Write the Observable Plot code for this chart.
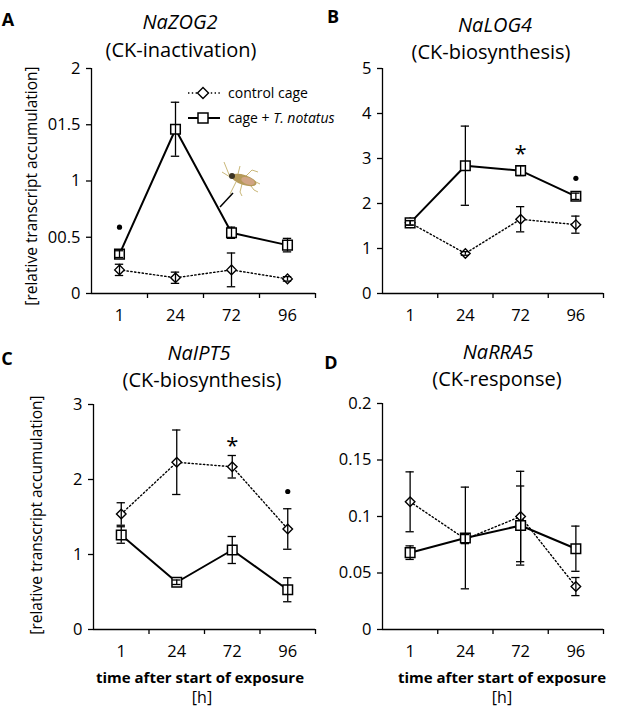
<!DOCTYPE html>
<html><head><meta charset="utf-8">
<script src="https://cdn.jsdelivr.net/npm/d3@7"></script>
<script src="https://cdn.jsdelivr.net/npm/@observablehq/plot@0.6"></script>
<style>
body{margin:0;background:#fff;font-family:"Open Sans",sans-serif;color:#000;}
#fig{position:relative;width:617px;height:709px;overflow:hidden;background:#fff;}
.abs{position:absolute;white-space:nowrap;line-height:1;transform:translate(-50%,-50%);}
.letter{font-weight:bold;font-size:18px;}
.title{font-style:italic;font-size:20px;}
.sub{font-size:20px;}
.xl{font-weight:bold;font-size:15px;}
.h{font-size:16px;}
.yl{font-size:15.5px;transform:translate(-50%,-50%) rotate(-90deg);}
.leg{position:absolute;font-size:14px;line-height:1;white-space:nowrap;transform:translateY(-50%);}
.panel{position:absolute;}
</style></head>
<body><div id="fig"></div>
<script>
// ---- data ----
const times = ["1", "24", "72", "96"];

const zogCtrl = [0.21, 0.14, 0.21, 0.13];
const zogCtrlErr = [0.05, 0.05, 0.15, 0.02];
const zogTrt = [0.35, 1.46, 0.54, 0.43];
const zogTrtErr = [0.03, 0.24, 0.05, 0.06];

const logCtrl = [1.57, 0.89, 1.65, 1.53];
const logCtrlErr = [0.05, 0.04, 0.28, 0.19];
const logTrt = [1.57, 2.84, 2.73, 2.16];
const logTrtErr = [0.05, 0.88, 0.11, 0.07];

const iptCtrl = [1.54, 2.23, 2.17, 1.34];
const iptCtrlErr = [0.15, 0.43, 0.15, 0.27];
const iptTrt = [1.26, 0.63, 1.06, 0.53];
const iptTrtErr = [0.11, 0.03, 0.18, 0.16];

const rraCtrl = [0.113, 0.080, 0.100, 0.038];
const rraCtrlErr = [0.0265, 0.004, 0.040, 0.008];
const rraTrt = [0.068, 0.081, 0.092, 0.0715];
const rraTrtErr = [0.006, 0.045, 0.035, 0.020];

const zogTicks = [0, 0.5, 1, 1.5, 2];
const zogTickLabels = ["0", "00.5", "1", "01.5", "2"];
const logTicks = [0, 1, 2, 3, 4, 5];
const logTickLabels = ["0", "1", "2", "3", "4", "5"];
const iptTicks = [0, 1, 2, 3];
const iptTickLabels = ["0", "1", "2", "3"];
const rraTicks = [0, 0.05, 0.1, 0.15, 0.2];
const rraTickLabels = ["0", "0.05", "0.1", "0.15", "0.2"];

// significance marks: [time index, y value, symbol]
const zogSig = [[0, 0.59, "dot"]];
const logSig = [[2, 3.23, "star"], [3, 2.56, "dot"]];
const iptSig = [[2, 2.53, "star"], [3, 1.84, "dot"]];
const rraSig = [];

// ---- drawing ----
const fig = document.getElementById("fig");

function rowsOf(vals, errs) {
  return times.map((t, i) => ({t, pos: i + 0.5, v: vals[i], lo: vals[i] - errs[i], hi: vals[i] + errs[i]}));
}

function panel(o) {
  const ctrl = rowsOf(o.ctrl, o.ctrlErr);
  const trt = rowsOf(o.trt, o.trtErr);
  const sig = o.sig.map(([i, y, s]) => ({pos: i + 0.5, y, s}));
  const cap = 0.075;
  const errMarks = (rows) => [
    Plot.ruleX(rows, {x: "pos", y1: "lo", y2: "hi", stroke: "black", strokeWidth: 1.3}),
    Plot.ruleY(rows, {y: "lo", x1: d => d.pos - cap, x2: d => d.pos + cap, stroke: "black", strokeWidth: 1.3}),
    Plot.ruleY(rows, {y: "hi", x1: d => d.pos - cap, x2: d => d.pos + cap, stroke: "black", strokeWidth: 1.3})
  ];
  const p = Plot.plot({
    width: o.width, height: o.height,
    marginLeft: o.ml, marginRight: o.mr, marginTop: o.mt, marginBottom: o.mb,
    style: {fontFamily: "Open Sans", color: "black", background: "transparent", overflow: "visible"},
    x: {domain: [0, 4], axis: null},
    y: {domain: [o.ticks[0], o.ticks[o.ticks.length - 1]], axis: null},
    marks: [
      Plot.axisY({ticks: o.ticks, tickFormat: d => o.labels[o.ticks.indexOf(d)], tickSize: 5, tickPadding: 6, fontSize: 16.5, strokeWidth: 1.3, label: null}),
      Plot.axisX({ticks: [1, 2, 3, 4], tickFormat: () => "", tickSize: 5, strokeWidth: 1.3, label: null}),
      Plot.axisX({ticks: [0.5, 1.5, 2.5, 3.5], tickFormat: d => times[Math.floor(d)], tickSize: 0, tickPadding: 16, fontSize: 16.5, label: null}),
      Plot.ruleX([0], {stroke: "black", strokeWidth: 1.3}),
      Plot.ruleY([o.ticks[0]], {stroke: "black", strokeWidth: 1.3}),
      Plot.line(ctrl, {x: "pos", y: "v", stroke: "black", strokeWidth: 1.4, strokeDasharray: "1.4,2.4"}),
      Plot.line(trt, {x: "pos", y: "v", stroke: "black", strokeWidth: 2}),
      Plot.dot(ctrl, {x: "pos", y: "v", symbol: "diamond2", r: 4.3, fill: "white", stroke: "black", strokeWidth: 1.4}),
      Plot.dot(trt, {x: "pos", y: "v", symbol: "square", r: 5.4, fill: "white", stroke: "black", strokeWidth: 1.5}),
      ...errMarks(ctrl),
      ...errMarks(trt),
      Plot.dot(sig.filter(d => d.s === "dot"), {x: "pos", y: "y", r: 2.6, fill: "black", stroke: null}),
      Plot.text(sig.filter(d => d.s === "star"), {x: "pos", y: "y", text: () => "*", fontSize: 22, dy: 6, fill: "black"})
    ]
  });
  p.classList.add("panel");
  p.style.left = o.left + "px";
  p.style.top = o.top + "px";
  fig.appendChild(p);
}

panel({ctrl: zogCtrl, ctrlErr: zogCtrlErr, trt: zogTrt, trtErr: zogTrtErr, ticks: zogTicks, labels: zogTickLabels, sig: zogSig,
  left: 0, top: 0, width: 330, height: 330, ml: 91, mr: 15, mt: 68, mb: 37});
panel({ctrl: logCtrl, ctrlErr: logCtrlErr, trt: logTrt, trtErr: logTrtErr, ticks: logTicks, labels: logTickLabels, sig: logSig,
  left: 300, top: 0, width: 317, height: 330, ml: 82, mr: 14, mt: 68, mb: 37});
panel({ctrl: iptCtrl, ctrlErr: iptCtrlErr, trt: iptTrt, trtErr: iptTrtErr, ticks: iptTicks, labels: iptTickLabels, sig: iptSig,
  left: 0, top: 330, width: 330, height: 379, ml: 93, mr: 15, mt: 74, mb: 80});
panel({ctrl: rraCtrl, ctrlErr: rraCtrlErr, trt: rraTrt, trtErr: rraTrtErr, ticks: rraTicks, labels: rraTickLabels, sig: rraSig,
  left: 300, top: 330, width: 317, height: 379, ml: 82, mr: 14, mt: 73, mb: 80});

// ---- texts ----
function txt(cls, html, x, y) {
  const d = document.createElement("div");
  d.className = "abs " + cls;
  d.innerHTML = html;
  d.style.left = x + "px";
  d.style.top = y + "px";
  fig.appendChild(d);
}
txt("letter", "A", 8, 19);
txt("letter", "B", 333, 16);
txt("letter", "C", 7, 358);
txt("letter", "D", 331, 362);
txt("title", "NaZOG2", 180, 22);
txt("sub", "(CK-inactivation)", 181, 50);
txt("title", "NaLOG4", 495, 25);
txt("sub", "(CK-biosynthesis)", 491, 52);
txt("title", "NaIPT5", 199, 353);
txt("sub", "(CK-biosynthesis)", 202, 380);
txt("title", "NaRRA5", 498, 352);
txt("sub", "(CK-response)", 497, 379);
txt("yl", "[relative transcript accumulation]", 32, 186);
txt("yl", "[relative transcript accumulation]", 37, 515);
txt("xl", "time after start of exposure", 200, 677);
txt("h", "[h]", 202, 697);
txt("xl", "time after start of exposure", 502, 677);
txt("h", "[h]", 502, 697);

// ---- legend ----
const legSvg = `<svg class="panel" style="left:180px;top:80px;overflow:visible" width="50" height="50">
  <line x1="8" y1="13" x2="40" y2="13" stroke="black" stroke-width="1.4" stroke-dasharray="1.4,2.4"/>
  <path d="M23 7.5 L28.5 13 L23 18.5 L17.5 13 Z" fill="white" stroke="black" stroke-width="1.4"/>
  <line x1="8" y1="38" x2="40" y2="38" stroke="black" stroke-width="2"/>
  <rect x="18" y="33" width="10" height="10" fill="white" stroke="black" stroke-width="1.5"/>
</svg>`;
fig.insertAdjacentHTML("beforeend", legSvg);
const l1 = document.createElement("div"); l1.className = "leg"; l1.style.left = "228px"; l1.style.top = "93px"; l1.textContent = "control cage"; fig.appendChild(l1);
const l2 = document.createElement("div"); l2.className = "leg"; l2.style.left = "228px"; l2.style.top = "118px"; l2.innerHTML = "cage + <i>T. notatus</i>"; fig.appendChild(l2);

// ---- insect illustration + pointer ----
const bug = `<svg class="panel" style="left:212px;top:160px;overflow:visible" width="60" height="50">
  <line x1="8" y1="47" x2="21" y2="33" stroke="black" stroke-width="1.5"/>
  <g stroke="#c9b779" stroke-width="1" fill="none">
    <path d="M18 17 L10 12"/><path d="M18 17 L12 2"/>
    <path d="M24 22 L20 30 L18 34"/><path d="M30 24 L28 32 L30 36"/>
    <path d="M36 22 L42 30 L46 32"/><path d="M26 14 L28 6"/><path d="M34 16 L40 10 L46 12"/>
    <path d="M40 20 L48 24"/>
  </g>
  <ellipse cx="32" cy="20" rx="13" ry="5" transform="rotate(18 32 20)" fill="#b59a5a"/>
  <ellipse cx="36" cy="21" rx="7" ry="3.5" transform="rotate(18 36 21)" fill="#d8a890" opacity="0.8"/>
  <circle cx="20" cy="16" r="3" fill="#3b3424"/>
</svg>`;
fig.insertAdjacentHTML("beforeend", bug);
</script>
</body></html>
